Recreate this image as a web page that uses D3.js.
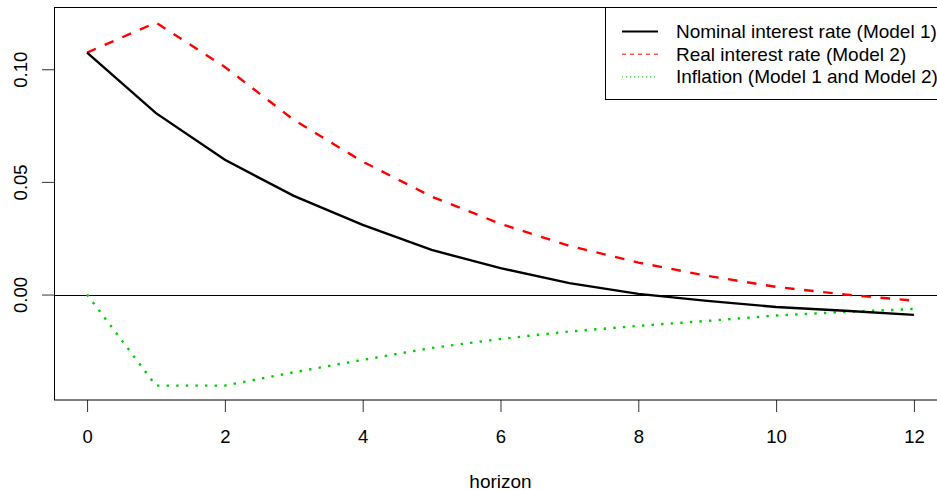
<!DOCTYPE html>
<html>
<head>
<meta charset="utf-8">
<script src="https://cdn.jsdelivr.net/npm/d3@7"></script>
<style>
html,body{margin:0;padding:0;background:#fff;}
svg{display:block;font-family:"Liberation Sans",Arial,Helvetica,sans-serif;}
</style>
</head>
<body>
<svg id="chart" width="937" height="490"></svg>
<script>
const horizon = [0,1,2,3,4,5,6,7,8,9,10,11,12];
const nominal = [0.1074,0.0805,0.0598,0.0438,0.0309,0.0198,0.0117,0.0051,0.0003,-0.0028,-0.0055,-0.0072,-0.0090];
const real    = [0.1074,0.1207,0.1010,0.0775,0.0590,0.0435,0.0314,0.0216,0.0142,0.0083,0.0034,0.0000,-0.0027];
const inflation = [0.0000,-0.0404,-0.0404,-0.0345,-0.0290,-0.0237,-0.0197,-0.0164,-0.0139,-0.0117,-0.0093,-0.0077,-0.0064];
const xTicks = [0,2,4,6,8,10,12];
const yTicks = [0.00,0.05,0.10];
const legendLabels = ["Nominal interest rate (Model 1)","Real interest rate (Model 2)","Inflation (Model 1 and Model 2)"];

const svg = d3.select("#chart");
const pL = 54, pR = 947, pT = 7.5, pB = 400;
const x = d3.scaleLinear().domain([-0.48, 12.48]).range([pL, pR]);
const y = d3.scaleLinear().domain([-0.0468, 0.1274]).range([pB, pT]);

// zero line
svg.append("line").attr("x1", pL).attr("x2", pR)
  .attr("y1", Math.round(y(0))+0.5).attr("y2", Math.round(y(0))+0.5)
  .attr("stroke","#000").attr("stroke-width",1);

// x axis
const xAxis = svg.append("g").attr("transform", `translate(0,${pB})`)
  .call(d3.axisBottom(x).tickValues(xTicks).tickFormat(d3.format("d")).tickSize(12).tickPadding(18));
xAxis.select(".domain").remove();
xAxis.selectAll("text").attr("font-size",18.5).attr("fill","#000").attr("font-family","Liberation Sans, Arial, sans-serif");
xAxis.selectAll("line").attr("stroke","#333");

// y axis
const yAxis = svg.append("g").attr("transform", `translate(${pL},0)`)
  .call(d3.axisLeft(y).tickValues(yTicks).tickFormat(d3.format(".2f")).tickSize(12));
yAxis.select(".domain").remove();
yAxis.selectAll("line").attr("stroke","#333");
yAxis.selectAll("text")
  .attr("font-size",18.5).attr("fill","#000").attr("font-family","Liberation Sans, Arial, sans-serif")
  .attr("text-anchor","middle").attr("x",null).attr("dy",null)
  .attr("transform","translate(-27,0) rotate(-90)");

// frame
svg.append("rect").attr("x", pL+0.5).attr("y", pT).attr("width", pR-pL).attr("height", pB-pT)
  .attr("fill","none").attr("stroke","#000").attr("stroke-width",1);

// x title
svg.append("text").attr("x", x(6)).attr("y", 487.5).attr("text-anchor","middle")
  .attr("font-size",19).text("horizon");

const line = d3.line().x((d,i)=>x(horizon[i])).y(d=>y(d));

svg.append("path").datum(inflation).attr("d", line).attr("fill","none")
  .attr("stroke","#00cd00").attr("stroke-width",2.4).attr("stroke-dasharray","2.4,7.2");
svg.append("path").datum(real).attr("d", line).attr("fill","none")
  .attr("stroke","#ff0000").attr("stroke-width",2.4).attr("stroke-dasharray","9.6,9.6");
svg.append("path").datum(nominal).attr("d", line).attr("fill","none")
  .attr("stroke","#000").attr("stroke-width",2.4);

// legend
const lg = svg.append("g");
lg.append("rect").attr("x",605.5).attr("y",7.5).attr("width",360).attr("height",92)
  .attr("fill","#fff").attr("stroke","#000").attr("stroke-width",1);
const styles = [
  {c:"#000", w:2, dash:null},
  {c:"#ff0000", w:1, dash:"4,4"},
  {c:"#00cd00", w:1, dash:"1,3"}
];
legendLabels.forEach((t,i)=>{
  const cy = 31.5 + i*22.7;
  lg.append("line").attr("x1",622).attr("x2",658).attr("y1",cy).attr("y2",cy)
    .attr("stroke",styles[i].c).attr("stroke-width",styles[i].w)
    .attr("stroke-dasharray",styles[i].dash);
  lg.append("text").attr("x",676).attr("y",cy+6.5).attr("font-size",19).attr("fill","#000").text(t);
});
</script>
</body>
</html>
